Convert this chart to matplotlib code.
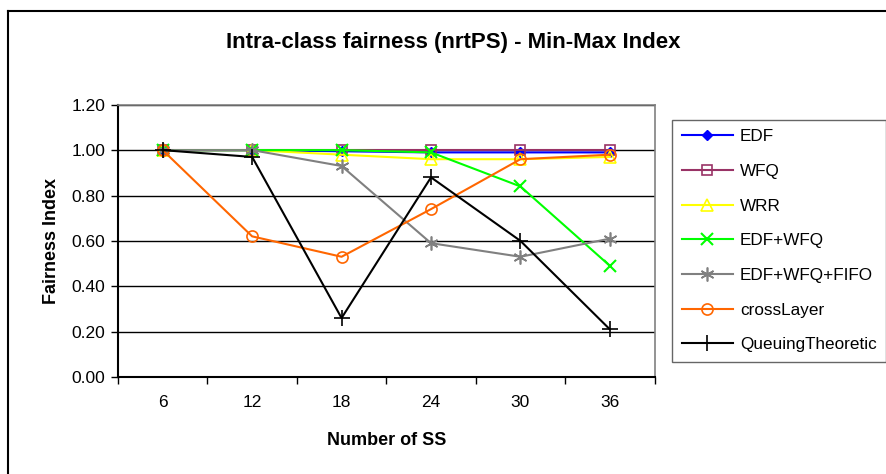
import numpy as np
import matplotlib.pyplot as plt
from matplotlib.lines import Line2D

plt.rcParams['font.family'] = ['Liberation Sans', 'DejaVu Sans']

# fairness index per number of subscriber stations
num_ss = ['6', '12', '18', '24', '30', '36']
edf = [1.00, 1.00, 0.995, 0.99, 0.99, 0.99]
wfq = [1.00, 1.00, 1.00, 1.00, 1.00, 1.00]
wrr = [1.00, 1.00, 0.98, 0.96, 0.96, 0.97]
edf_wfq = [1.00, 1.00, 1.00, 0.99, 0.84, 0.49]
edf_wfq_fifo = [1.00, 1.00, 0.93, 0.59, 0.53, 0.61]
cross_layer = [1.00, 0.62, 0.53, 0.74, 0.96, 0.98]
queuing = [1.00, 0.97, 0.26, 0.88, 0.60, 0.21]

fig = plt.figure(figsize=(8.87, 4.74), dpi=100)
ax = fig.add_axes([0.133, 0.2046, 0.605, 0.5744])

x = np.arange(len(num_ss))

ax.plot(x, edf, color='#0000FF', marker='D', markersize=5, lw=1.5, label='EDF')
ax.plot(x, wfq, color='#993366', marker='s', markersize=7, mfc='none', mew=1.2, lw=1.5, label='WFQ')
ax.plot(x, wrr, color='#FFFF00', marker='^', markersize=8, mfc='none', mew=1.2, lw=1.5, label='WRR')
ax.plot(x, edf_wfq, color='#00FF00', marker='x', markersize=9, mew=1.5, lw=1.5, label='EDF+WFQ')
ax.plot(x, edf_wfq_fifo, color='#808080', marker=(6, 2, 0), markersize=10, mew=1.2, lw=1.5, label='EDF+WFQ+FIFO')
ax.plot(x, cross_layer, color='#FF6600', marker='o', markersize=8, mfc='none', mew=1.2, lw=1.5, label='crossLayer')
ax.plot(x, queuing, color='#000000', marker='+', markersize=11, mew=1.2, lw=1.5, label='QueuingTheoretic')

ax.set_xlim(-0.5, len(num_ss) - 0.5)
ax.set_ylim(0, 1.2)
ax.set_yticks(np.arange(0, 1.21, 0.2))
ax.set_yticklabels(['%.2f' % v for v in np.arange(0, 1.21, 0.2)])
ax.yaxis.grid(True, color='black', lw=1)
ax.set_axisbelow(True)

# category labels centred, tick marks on the boundaries
ax.set_xticks(x)
ax.set_xticklabels(num_ss)
ax.set_xticks(np.arange(-0.5, len(num_ss)), minor=True)
ax.tick_params(axis='x', which='major', length=0, pad=13, labelsize=12.5)
ax.tick_params(axis='x', which='minor', length=5, direction='out', width=1)
ax.tick_params(axis='y', length=5, direction='out', width=1, labelsize=12.5, pad=4)

for side in ['left', 'bottom']:
    ax.spines[side].set_color('black')
    ax.spines[side].set_linewidth(1.5)
for side in ['top', 'right']:
    ax.spines[side].set_color('#808080')
    ax.spines[side].set_linewidth(1.2)

ax.set_xlabel('Number of SS', fontsize=13, fontweight='bold', labelpad=16)
ax.set_ylabel('Fairness Index', fontsize=13, fontweight='bold', labelpad=8)
fig.text(0.511, 0.911, 'Intra-class fairness (nrtPS) - Min-Max Index',
         ha='center', va='center', fontsize=16, fontweight='bold')

leg = ax.legend(loc='upper left', bbox_to_anchor=(0.758, 0.747), bbox_transform=fig.transFigure,
                fontsize=12.3, frameon=True, fancybox=False, edgecolor='#404040',
                handlelength=3.0, labelspacing=1.15, borderpad=0.55, handletextpad=0.4,
                borderaxespad=0)
leg.get_frame().set_linewidth(1.0)

# outer chart border
fig.add_artist(Line2D([0.0095, 0.0095], [0.0, 0.977], color='black', lw=1.5, transform=fig.transFigure))
fig.add_artist(Line2D([0.0095, 1.0], [0.977, 0.977], color='black', lw=1.5, transform=fig.transFigure))

fig.savefig('out.png', dpi=100)
